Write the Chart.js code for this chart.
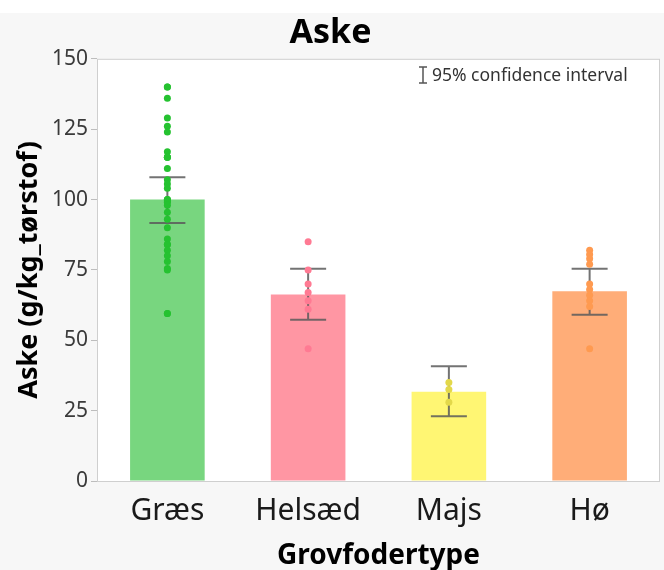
<!doctype html>
<html>
<head>
  <title>Aske</title>
  <script src="https://cdn.jsdelivr.net/npm/chart.js@4/dist/chart.umd.min.js"></script>
  <style>
    body { margin: 0; background: #fff; }
    #wrap { width: 664px; height: 570px; }
  </style>
</head>
<body>
<div id="wrap"><canvas id="canvas" width="664" height="570"></canvas></div>
<script>
  var labels = ['Græs', 'Helsæd', 'Majs', 'Hø'];
  var means = [100, 66.3, 31.7, 67.4];
  var ciLow = [91.7, 57.3, 23.0, 59.1];
  var ciHigh = [107.9, 75.4, 40.8, 75.4];

  // individual observations per feed type
  var graesPts = [140, 140, 136, 129, 126, 124, 117, 115, 115, 115, 111, 107, 105.5, 104,
    100, 100, 99.5, 99, 98, 95.5, 93, 90, 86, 84, 84, 82, 80, 78, 75.5, 75, 59.5, 59.5];
  var helsaedPts = [85, 75, 70, 67, 64, 61, 47];
  var majsPts = [35, 32.5, 28];
  var hoePts = [82, 80.5, 79, 77, 70, 68, 66, 64, 62, 47];

  var yTicks = [0, 25, 50, 75, 100, 125, 150];

  var barColors = ['#78d67f', '#ff96a3', '#fff673', '#ffad78'];
  var pointColors = ['#25c230', '#ff7a93', '#e3d84a', '#ff9a50'];

  function pts(label, arr) {
    return arr.map(function (v) { return { x: label, y: v }; });
  }

  var pointSets = [graesPts, helsaedPts, majsPts, hoePts];

  var datasets = [{
    type: 'bar',
    label: 'Aske',
    data: means,
    backgroundColor: barColors,
    categoryPercentage: 1,
    barPercentage: 0.53,
    order: 10
  }];
  pointSets.forEach(function (arr, i) {
    datasets.push({
      type: 'scatter',
      label: labels[i],
      data: pts(labels[i], arr),
      backgroundColor: pointColors[i],
      borderWidth: 0,
      pointRadius: 3.5,
      order: 1
    });
  });

  var framePlugin = {
    id: 'frame',
    beforeDraw: function (chart) {
      var ctx = chart.ctx, a = chart.chartArea;
      ctx.save();
      ctx.fillStyle = '#f7f7f7';
      ctx.fillRect(0, 13, chart.width, chart.height - 13);
      ctx.fillStyle = '#ffffff';
      ctx.fillRect(a.left, a.top, a.right - a.left, a.bottom - a.top);
      ctx.restore();
    },
    afterDatasetDraw: function (chart, args) {
      // error bars drawn right after the bars, below the points
      if (args.index !== 0) return;
      var ctx = chart.ctx, x = chart.scales.x, y = chart.scales.y;
      ctx.save();
      ctx.strokeStyle = 'rgba(90,90,90,0.85)';
      ctx.lineWidth = 2;
      for (var i = 0; i < labels.length; i++) {
        var cx = x.getPixelForValue(i);
        var yl = y.getPixelForValue(ciLow[i]);
        var yh = y.getPixelForValue(ciHigh[i]);
        ctx.beginPath();
        ctx.moveTo(cx, yl); ctx.lineTo(cx, yh);
        ctx.moveTo(cx - 18, yl); ctx.lineTo(cx + 18, yl);
        ctx.moveTo(cx - 18, yh); ctx.lineTo(cx + 18, yh);
        ctx.stroke();
      }
      ctx.restore();
    },
    afterDraw: function (chart) {
      var ctx = chart.ctx, a = chart.chartArea;
      ctx.save();
      ctx.strokeStyle = '#cfcfcf';
      ctx.lineWidth = 1;
      ctx.strokeRect(a.left + 0.5, a.top + 0.5, a.right - a.left - 1, a.bottom - a.top);
      // legend for the interval
      ctx.strokeStyle = '#555';
      ctx.lineWidth = 1.5;
      ctx.beginPath();
      ctx.moveTo(423, 67); ctx.lineTo(423, 83);
      ctx.moveTo(419, 67); ctx.lineTo(427, 67);
      ctx.moveTo(419, 83); ctx.lineTo(427, 83);
      ctx.stroke();
      ctx.fillStyle = '#333';
      ctx.font = '17.5px "Noto Sans"';
      ctx.textBaseline = 'middle';
      ctx.fillText('95% confidence interval', 432, 76);
      ctx.restore();
    }
  };

  window.onload = function () {
    var ctx = document.getElementById('canvas').getContext('2d');
    window.myChart = new Chart(ctx, {
      type: 'bar',
      data: { labels: labels, datasets: datasets },
      plugins: [framePlugin],
      options: {
        responsive: false,
        animation: false,
        layout: { padding: { right: 3 } },
        plugins: {
          legend: { display: false },
          tooltip: { enabled: false },
          title: {
            display: true,
            text: 'Aske',
            color: '#000',
            font: { family: '"Noto Sans"', size: 34, weight: 'bold' },
            padding: { top: 13, bottom: 5 }
          }
        },
        scales: {
          x: {
            type: 'category',
            grid: { display: false, drawTicks: false },
            border: { display: false },
            ticks: {
              color: '#1a1a1a',
              padding: 12,
              font: { family: '"Noto Sans"', size: 30 }
            },
            title: {
              display: true,
              text: 'Grovfodertype',
              color: '#000',
              font: { family: '"Noto Sans"', size: 28, weight: 'bold', lineHeight: 1 },
              padding: { top: 0, bottom: 0 }
            },
            afterFit: function (s) { s.height = 89; }
          },
          y: {
            min: 0,
            max: 150,
            afterBuildTicks: function (s) {
              s.ticks = yTicks.map(function (v) { return { value: v }; });
            },
            grid: { drawOnChartArea: false, tickLength: 6, color: '#bdbdbd' },
            border: { display: false },
            ticks: {
              color: '#3a3a3a',
              padding: 3,
              font: { family: '"Noto Sans"', size: 21 }
            },
            title: {
              display: true,
              text: 'Aske (g/kg_tørstof)',
              color: '#000',
              font: { family: '"Noto Sans"', size: 27, weight: 'bold' },
              padding: { top: 13, bottom: 0 }
            },
            afterFit: function (s) { s.width = 97; }
          }
        }
      }
    });
  };
</script>
</body>
</html>
